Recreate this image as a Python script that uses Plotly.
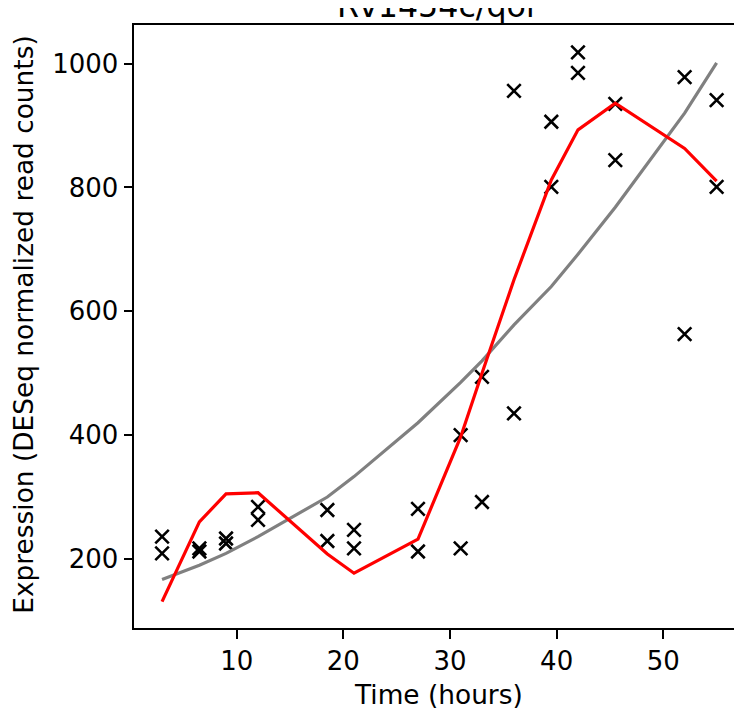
import plotly.graph_objects as go

# ---- data ----
time_points = [3, 6.5, 9, 12, 18.5, 21, 27, 31, 33, 36, 39.5, 42, 45.5, 52, 55]
rep1 = [236, 217, 233, 284, 279, 247, 281, 400, 494, 956, 906, 1018, 935, 978, 941]
rep2 = [209, 212, 225, 263, 229, 217, 212, 217, 292, 435, 801, 985, 844, 563, 801]
red_curve = [131, 260, 305, 307, 208, 177, 232, 397, 500, 651, 812, 893, 936, 863, 810]
grey_curve = [167, 190, 209, 236, 300, 333, 420, 485, 520, 578, 640, 692, 768, 920, 1001]
x_ticks = [10, 20, 30, 40, 50]
y_ticks = [200, 400, 600, 800, 1000]

title_text = "Rv1454c/qor"
x_label = "Time (hours)"
y_label = "Expression (DESeq normalized read counts)"

FONT = "DejaVu Sans"

fig = go.Figure()

# replicate measurements
fig.add_trace(go.Scatter(
    x=time_points + time_points, y=rep1 + rep2, mode="markers",
    marker=dict(symbol="x-thin", size=13.5, color="black",
                line=dict(color="black", width=2.6)),
    showlegend=False, hoverinfo="skip"))

# grey fit
fig.add_trace(go.Scatter(
    x=time_points, y=grey_curve, mode="lines",
    line=dict(color="#808080", width=3.2), showlegend=False, hoverinfo="skip"))

# red curve
fig.add_trace(go.Scatter(
    x=time_points, y=red_curve, mode="lines",
    line=dict(color="#ff0000", width=3.2), showlegend=False, hoverinfo="skip"))

axis_common = dict(
    showgrid=False, zeroline=False, showline=True, linecolor="black", linewidth=2,
    ticks="outside", ticklen=8.5, tickwidth=2, tickcolor="black",
    tickfont=dict(family=FONT, size=26, color="black"),
)

fig.update_xaxes(range=[0.37, 57.38], tickvals=x_ticks, mirror=True, **axis_common)
fig.update_yaxes(range=[88.5, 1062.3], tickvals=y_ticks, mirror=False, **axis_common)

# the page body has an 8px margin, so the figure is 8px smaller and offset
fig.update_layout(
    width=734, height=701, autosize=False,
    margin=dict(l=126, r=0, t=17, b=81, pad=0),
    paper_bgcolor="white", plot_bgcolor="white",
    font=dict(family=FONT, color="black"),
    annotations=[
        dict(text=title_text, x=0.5, y=1.032, xref="paper", yref="paper",
             xanchor="center", yanchor="middle", showarrow=False,
             font=dict(family=FONT, size=31.7, color="black")),
        dict(text=x_label, x=0.5, y=-0.1095, xref="paper", yref="paper",
             xanchor="center", yanchor="middle", showarrow=False,
             font=dict(family=FONT, size=26.4, color="black")),
        dict(text=y_label, x=-0.1809, y=0.503, xref="paper", yref="paper",
             xanchor="center", yanchor="middle", textangle=-90, showarrow=False,
             font=dict(family=FONT, size=26.4, color="black")),
    ],
)

fig.write_html("out.html")
